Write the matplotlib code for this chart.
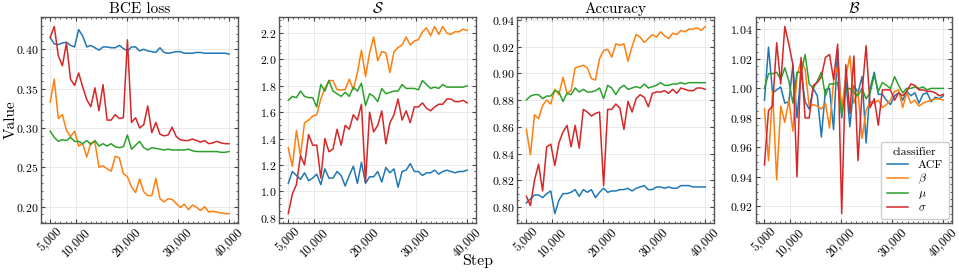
import numpy as np
import matplotlib
matplotlib.use("Agg")
import matplotlib.pyplot as plt
from matplotlib.ticker import AutoMinorLocator, MultipleLocator, StrMethodFormatter

plt.rcParams['font.family'] = ['cmr10', 'DejaVu Serif']
plt.rcParams['mathtext.fontset'] = 'cm'
plt.rcParams['axes.formatter.use_mathtext'] = True
plt.rcParams['xtick.direction'] = 'in'
plt.rcParams['ytick.direction'] = 'in'
plt.rcParams['xtick.top'] = True
plt.rcParams['ytick.right'] = True

# evaluation steps (45 evaluations between 5k and 40k)
steps = np.linspace(5000, 40000, 45)

classifiers = ["ACF", r"$\beta$", r"$\mu$", r"$\sigma$"]
colors = ['#1f77b4', '#ff7f0e', '#2ca02c', '#d62728']

bce_acf = [0.415, 0.407, 0.406, 0.408, 0.409, 0.405, 0.403, 0.425, 0.417, 0.403, 0.405, 0.402, 0.399, 0.403, 0.403,
           0.402, 0.402, 0.405, 0.401, 0.398, 0.403, 0.403, 0.398, 0.400, 0.398, 0.397, 0.396, 0.402, 0.396, 0.395,
           0.396, 0.397, 0.397, 0.395, 0.395, 0.395, 0.396, 0.396, 0.395, 0.395, 0.395, 0.395, 0.395, 0.395, 0.394]
bce_beta = [0.333, 0.362, 0.312, 0.317, 0.297, 0.289, 0.296, 0.277, 0.280, 0.263, 0.281, 0.282, 0.250, 0.252, 0.248,
            0.245, 0.264, 0.262, 0.242, 0.238, 0.225, 0.218, 0.235, 0.219, 0.214, 0.214, 0.236, 0.210, 0.206, 0.210,
            0.209, 0.204, 0.199, 0.203, 0.196, 0.202, 0.199, 0.195, 0.200, 0.193, 0.194, 0.193, 0.192, 0.191, 0.191]
bce_mu = [0.296, 0.288, 0.283, 0.285, 0.284, 0.288, 0.283, 0.283, 0.280, 0.284, 0.279, 0.284, 0.277, 0.280, 0.277,
          0.280, 0.276, 0.275, 0.276, 0.291, 0.273, 0.278, 0.283, 0.275, 0.272, 0.275, 0.274, 0.273, 0.272, 0.273,
          0.272, 0.272, 0.272, 0.272, 0.273, 0.271, 0.270, 0.270, 0.270, 0.270, 0.270, 0.270, 0.269, 0.269, 0.270]
bce_sigma = [0.415, 0.429, 0.392, 0.379, 0.408, 0.362, 0.354, 0.370, 0.352, 0.336, 0.327, 0.351, 0.322, 0.355, 0.310,
             0.310, 0.317, 0.312, 0.313, 0.412, 0.307, 0.313, 0.300, 0.304, 0.328, 0.294, 0.307, 0.292, 0.290, 0.291,
             0.301, 0.289, 0.285, 0.284, 0.284, 0.286, 0.284, 0.282, 0.284, 0.280, 0.281, 0.283, 0.281, 0.280, 0.280]

s_acf = [1.06, 1.15, 1.12, 1.09, 1.14, 1.08, 1.10, 1.13, 1.05, 1.17, 1.10, 1.10, 1.15, 1.12, 1.04,
         1.12, 1.19, 1.06, 1.22, 1.06, 1.11, 1.11, 1.15, 1.07, 1.18, 1.14, 1.17, 1.03, 1.15, 1.16,
         1.21, 1.15, 1.15, 1.12, 1.14, 1.14, 1.16, 1.13, 1.15, 1.16, 1.15, 1.14, 1.15, 1.15, 1.16]
s_beta = [1.33, 1.19, 1.46, 1.27, 1.52, 1.54, 1.57, 1.58, 1.70, 1.78, 1.84, 1.84, 1.77, 1.77, 1.77,
          1.85, 1.77, 1.90, 2.07, 1.87, 2.05, 2.17, 1.99, 2.06, 2.05, 1.90, 2.06, 2.09, 2.11, 2.17,
          2.11, 2.14, 2.15, 2.21, 2.24, 2.18, 2.25, 2.19, 2.25, 2.20, 2.19, 2.21, 2.21, 2.23, 2.22]
s_mu = [1.69, 1.72, 1.71, 1.76, 1.72, 1.71, 1.71, 1.64, 1.81, 1.76, 1.84, 1.76, 1.74, 1.72, 1.75,
        1.72, 1.79, 1.76, 1.82, 1.65, 1.74, 1.72, 1.68, 1.78, 1.74, 1.75, 1.76, 1.76, 1.81, 1.78,
        1.78, 1.78, 1.77, 1.84, 1.81, 1.78, 1.79, 1.78, 1.81, 1.79, 1.79, 1.79, 1.79, 1.79, 1.80]
s_sigma = [0.83, 0.98, 1.05, 1.27, 1.20, 1.43, 1.35, 1.35, 1.10, 1.40, 1.30, 1.32, 1.47, 1.35, 1.50,
           1.47, 1.58, 1.54, 1.66, 1.07, 1.60, 1.45, 1.50, 1.61, 1.36, 1.52, 1.58, 1.70, 1.54, 1.61,
           1.52, 1.64, 1.64, 1.67, 1.63, 1.61, 1.64, 1.66, 1.66, 1.70, 1.70, 1.68, 1.68, 1.69, 1.67]

acc_acf = [0.803, 0.806, 0.809, 0.809, 0.807, 0.810, 0.812, 0.795, 0.805, 0.810, 0.810, 0.811, 0.813, 0.808, 0.813,
           0.811, 0.813, 0.807, 0.811, 0.814, 0.811, 0.812, 0.812, 0.813, 0.813, 0.814, 0.812, 0.814, 0.815, 0.816,
           0.813, 0.813, 0.815, 0.815, 0.814, 0.815, 0.814, 0.814, 0.816, 0.816, 0.816, 0.815, 0.815, 0.815, 0.815]
acc_beta = [0.858, 0.839, 0.869, 0.866, 0.876, 0.880, 0.877, 0.888, 0.884, 0.897, 0.885, 0.887, 0.904, 0.905, 0.906,
            0.904, 0.896, 0.895, 0.911, 0.917, 0.918, 0.912, 0.922, 0.921, 0.922, 0.909, 0.920, 0.929, 0.927, 0.923,
            0.926, 0.929, 0.927, 0.931, 0.928, 0.926, 0.930, 0.929, 0.932, 0.931, 0.933, 0.933, 0.934, 0.932, 0.935]
acc_mu = [0.880, 0.883, 0.884, 0.884, 0.881, 0.883, 0.883, 0.887, 0.886, 0.879, 0.885, 0.884, 0.889, 0.886, 0.888,
          0.886, 0.886, 0.887, 0.889, 0.881, 0.891, 0.889, 0.884, 0.889, 0.891, 0.888, 0.889, 0.890, 0.889, 0.892,
          0.889, 0.890, 0.891, 0.893, 0.891, 0.891, 0.892, 0.892, 0.893, 0.892, 0.893, 0.893, 0.893, 0.893, 0.893]
acc_sigma = [0.808, 0.801, 0.820, 0.832, 0.812, 0.845, 0.847, 0.831, 0.848, 0.856, 0.861, 0.845, 0.861, 0.844, 0.873,
             0.871, 0.868, 0.870, 0.871, 0.816, 0.873, 0.873, 0.877, 0.874, 0.858, 0.879, 0.871, 0.881, 0.884, 0.882,
             0.875, 0.885, 0.886, 0.886, 0.887, 0.885, 0.888, 0.885, 0.889, 0.888, 0.887, 0.887, 0.889, 0.889, 0.888]

b_acf = [0.992, 1.028, 0.997, 0.999, 1.001, 0.990, 0.991, 1.016, 0.980, 1.011, 0.991, 0.986, 1.000, 0.995, 0.967,
         0.999, 1.000, 0.972, 1.027, 0.980, 1.006, 0.974, 1.002, 0.997, 1.008, 0.963, 1.000, 1.011, 0.996, 0.996,
         0.992, 0.989, 0.995, 0.997, 0.992, 0.998, 0.995, 0.997, 0.990, 0.996, 0.997, 0.991, 0.994, 0.993, 0.995]
b_beta = [0.986, 0.951, 0.998, 0.938, 0.988, 0.977, 0.992, 0.971, 1.008, 1.019, 1.013, 0.988, 0.989, 0.988, 0.986,
          0.990, 0.973, 1.005, 1.015, 0.985, 1.008, 1.022, 0.990, 0.998, 0.966, 0.985, 0.991, 0.990, 0.992, 0.987,
          0.989, 0.992, 0.998, 0.999, 0.987, 0.997, 0.990, 0.992, 0.988, 0.990, 0.991, 0.992, 0.993, 0.993, 0.992]
b_mu = [1.000, 1.010, 1.010, 1.011, 1.006, 1.014, 1.005, 0.990, 1.011, 1.011, 1.023, 1.003, 1.000, 1.005, 1.011,
        0.995, 1.003, 1.003, 1.004, 0.982, 0.999, 1.000, 0.997, 0.995, 1.000, 0.993, 0.997, 1.009, 0.998, 1.004,
        1.002, 1.000, 1.008, 1.002, 0.997, 1.000, 1.000, 1.001, 1.000, 1.001, 0.999, 1.000, 1.000, 1.000, 1.000]
b_sigma = [0.948, 0.985, 0.988, 1.031, 1.003, 1.042, 1.030, 1.016, 0.940, 1.021, 0.980, 0.980, 1.002, 1.004, 1.008,
           1.021, 1.023, 1.006, 1.030, 0.915, 1.016, 0.983, 1.022, 0.951, 0.997, 1.029, 0.987, 0.993, 0.975, 0.999,
           0.999, 0.999, 0.992, 0.997, 0.995, 0.998, 1.003, 1.002, 0.999, 0.999, 0.998, 0.998, 0.997, 0.995, 0.996]

panels = [
    ("BCE loss", [bce_acf, bce_beta, bce_mu, bce_sigma], 0.05),
    (r"$\mathcal{S}$", [s_acf, s_beta, s_mu, s_sigma], 0.2),
    ("Accuracy", [acc_acf, acc_beta, acc_mu, acc_sigma], 0.02),
    (r"$\mathcal{B}$", [b_acf, b_beta, b_mu, b_sigma], 0.02),
]

fig, axes = plt.subplots(1, 4, figsize=(9.59, 2.72), dpi=100)
fig.subplots_adjust(left=0.043, right=0.993, bottom=0.18, top=0.937, wspace=0.21)

for ax, (title, series, ystep) in zip(axes, panels):
    for vals, name, c in zip(series, classifiers, colors):
        ax.plot(steps, vals, color=c, lw=1.1, label=name)
    ax.set_title(title, fontsize=11, pad=3)
    ax.set_xticks([5000, 10000, 20000, 30000, 40000])
    ax.xaxis.set_major_formatter(StrMethodFormatter('{x:,.0f}'))
    ax.xaxis.set_minor_locator(MultipleLocator(1000))
    ax.yaxis.set_major_locator(MultipleLocator(ystep))
    ax.yaxis.set_minor_locator(AutoMinorLocator())
    ax.tick_params(axis='x', labelrotation=45, labelsize=9, pad=2)
    ax.tick_params(axis='y', labelsize=8.5, pad=2)
    ax.tick_params(which='major', length=3, color='#444444')
    ax.tick_params(which='minor', length=1.5, color='#444444')
    ax.grid(True, color='#e6e6e6', lw=0.6)
    for sp in ax.spines.values():
        sp.set_color('#555555')
        sp.set_linewidth(1.0)

axes[0].set_ylabel("Value", fontsize=11)
axes[0].yaxis.set_label_coords(-0.12, 0.5)
fig.text(0.498, 0.025, "Step", ha='center', fontsize=11.5)

leg = axes[3].legend(title="classifier", loc='lower right', fontsize=8.5, title_fontsize=8.5,
                     framealpha=1, edgecolor='#cccccc', handlelength=1.8, borderpad=0.5,
                     labelspacing=0.2, borderaxespad=0.3)

fig.savefig("out.png", dpi=100)
